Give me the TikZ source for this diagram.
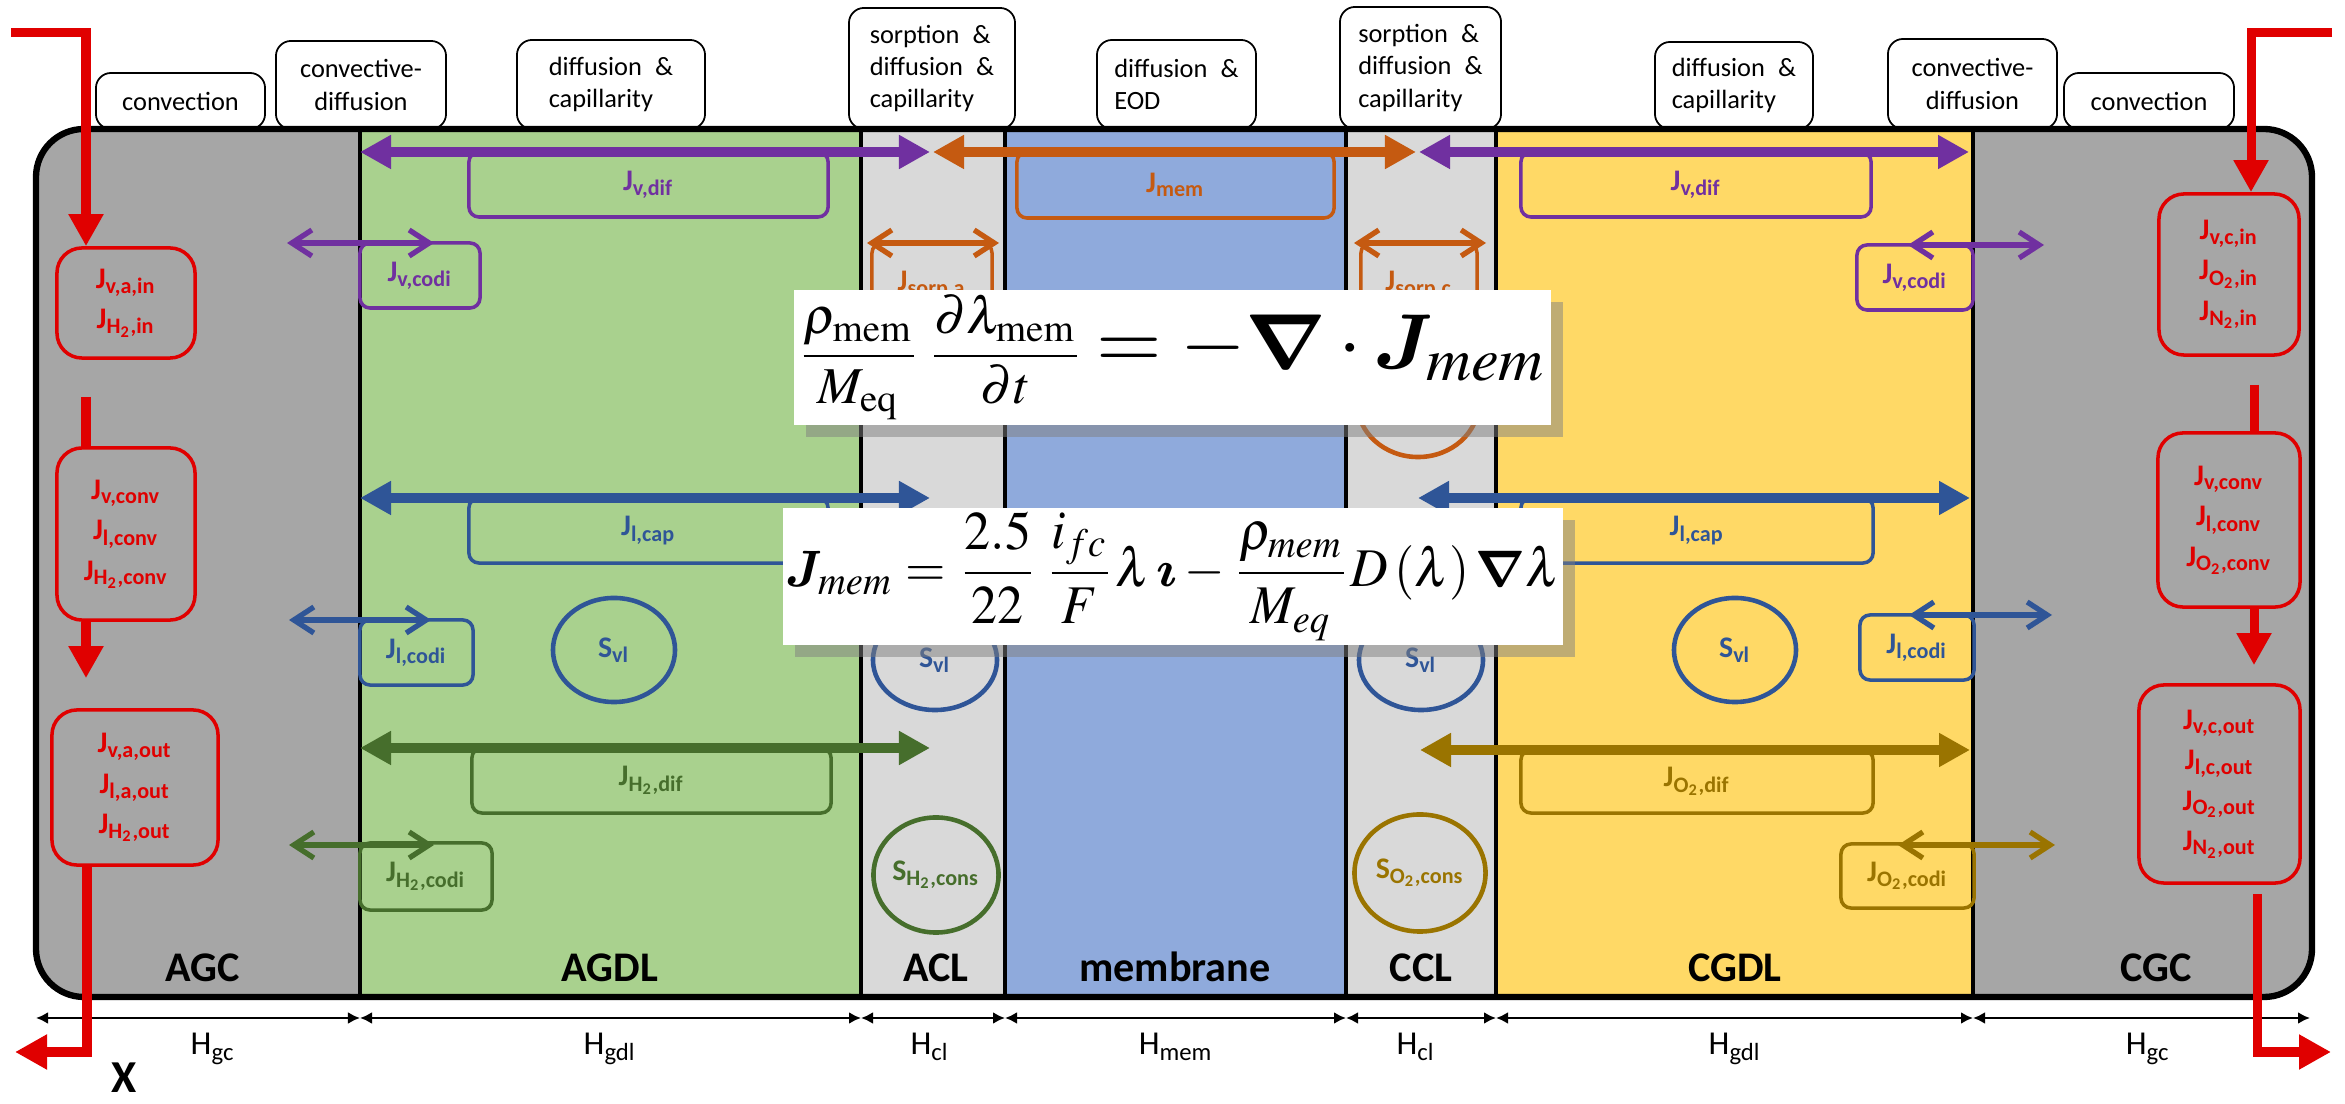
\documentclass[tikz,border=0pt]{standalone}
\usepackage{amsmath}
\usepackage{bm}
\usepackage{mathptmx}
\usepackage{graphicx}
\usepackage[no-math]{fontspec}
\setmainfont{Carlito}
\usetikzlibrary{arrows.meta,positioning,shapes.geometric,shadows,calc}
\definecolor{gcgray}{RGB}{166,166,166}
\definecolor{gdlgreen}{RGB}{169,209,142}
\definecolor{clgray}{RGB}{217,217,217}
\definecolor{memblue}{RGB}{143,170,220}
\definecolor{gdlyellow}{RGB}{255,217,102}
\definecolor{vappurple}{RGB}{112,48,160}
\definecolor{memorange}{RGB}{197,90,17}
\definecolor{liqblue}{RGB}{47,85,151}
\definecolor{hydgreen}{RGB}{70,110,44}
\definecolor{oxyolive}{RGB}{154,116,0}
\definecolor{flowred}{RGB}{224,0,0}
\newcommand{\flux}[1]{J\textsubscript{#1}}
\newcommand{\subtwo}{\textsubscript{2}}

\begin{document}
\begin{tikzpicture}[x=0.01cm, y=-0.01cm, thick, font=\fontsize{8.5}{11.5}\selectfont\bfseries]
  \tikzstyle{toplbl} = [draw, fill=white, rounded corners=0.15cm, line width=0.5pt, inner sep=0pt, font=\fontsize{7.5}{9.2}\selectfont]
  \tikzstyle{fluxbox} = [draw, rounded corners=0.1cm, line width=1pt, inner sep=0pt]
  \tikzstyle{redbox} = [draw=flowred, text=flowred, rounded corners=0.25cm, line width=1pt, inner sep=0pt, align=center]
  \tikzstyle{srcell} = [ellipse, draw, line width=1.3pt, inner sep=0pt]
  \tikzstyle{bigflow} = [{Triangle[length=0.31cm,width=0.32cm]}-{Triangle[length=0.31cm,width=0.32cm]}, line width=0.1cm]
  \tikzstyle{codiflow} = [{Straight Barb[length=0.2cm,width=0.26cm]}-{Straight Barb[length=0.2cm,width=0.26cm]}, line width=1.5pt]
  \tikzstyle{redflow} = [flowred, line width=0.09cm, -{Triangle[length=0.32cm,width=0.33cm]}]
  \tikzstyle{redline} = [flowred, line width=0.09cm]
  \tikzstyle{dimarr} = [{Latex[length=0.12cm,width=0.12cm]}-{Latex[length=0.12cm,width=0.12cm]}, line width=0.8pt]
  \tikzstyle{lyrlbl} = [anchor=base, font=\fontsize{12}{14}\selectfont\bfseries]
  \tikzstyle{dimlbl} = [anchor=base, font=\fontsize{9.5}{11}\selectfont]
  \tikzstyle{eqbox} = [fill=white, inner sep=0pt, drop shadow={shadow xshift=0.12cm, shadow yshift=-0.12cm, opacity=0.5}]

  \useasboundingbox (0,0) rectangle (2345,1104);

  % layers
  \begin{scope}
    \clip[rounded corners=0.48cm] (36,129) rectangle (2312,997);
    \foreach \a/\b/\c in {36/360/gcgray, 360/861/gdlgreen, 861/1005/clgray, 1005/1346/memblue,
                          1346/1496/clgray, 1496/1973/gdlyellow, 1973/2312/gcgray}
      \fill[\c] (\a,129) rectangle (\b,997);
  \end{scope}
  \foreach \x in {360,861,1005,1346,1496,1973}
    \draw[line width=1.3pt] (\x,129) -- (\x,997);

  \node[toplbl, minimum width=1.69cm, minimum height=0.56cm] (convA) at (180.5,101) {convection};
  \node[toplbl, minimum width=1.70cm, minimum height=0.88cm, align=center] (codiA) at (361,85) {convective-\\diffusion};
  \node[toplbl, minimum width=1.88cm, minimum height=0.89cm, align=left] (capA) at (611,84.5) {diffusion\enspace\&\\capillarity};
  \node[toplbl, minimum width=1.66cm, minimum height=1.21cm, align=left] (sorpA) at (932,68.5) {sorption\enspace\&\\diffusion\enspace\&\\capillarity};
  \node[toplbl, minimum width=1.59cm, minimum height=0.89cm, align=left] (eod) at (1176.5,84.5) {diffusion\enspace\&\\EOD};
  \node[toplbl, minimum width=1.61cm, minimum height=1.22cm, align=left] (sorpC) at (1420.5,68) {sorption\enspace\&\\diffusion\enspace\&\\capillarity};
  \node[toplbl, minimum width=1.58cm, minimum height=0.87cm, align=left] (capC) at (1734,85.5) {diffusion\enspace\&\\capillarity};
  \node[toplbl, minimum width=1.69cm, minimum height=0.90cm, align=center] (codiC) at (1972.5,84) {convective-\\diffusion};
  \node[toplbl, minimum width=1.70cm, minimum height=0.56cm] (convC) at (2149,101) {convection};

  \draw[line width=1.8pt, rounded corners=0.48cm] (36,129) rectangle (2312,997);

  \node[lyrlbl] (agc) at (203,982) {AGC};
  \node[lyrlbl] (agdl) at (610,982) {AGDL};
  \node[lyrlbl] (acl) at (936,982) {ACL};
  \node[lyrlbl] (mem) at (1175,982) {membrane};
  \node[lyrlbl] (ccl) at (1421,982) {CCL};
  \node[lyrlbl] (cgdl) at (1735,982) {CGDL};
  \node[lyrlbl] (cgc) at (2156,982) {CGC};

  % diffusive fluxes
  \node[fluxbox, draw=vappurple, text=vappurple, minimum width=3.59cm, minimum height=0.65cm] (jvdifA) at (648.5,184.5) {\flux{v,dif}};
  \node[fluxbox, draw=memorange, text=memorange, minimum width=3.17cm, minimum height=0.66cm] (jmem) at (1175.5,185) {\flux{mem}};
  \node[fluxbox, draw=vappurple, text=vappurple, minimum width=3.50cm, minimum height=0.65cm] (jvdifC) at (1696,184.5) {\flux{v,dif}};
  \node[fluxbox, draw=liqblue, text=liqblue, minimum width=3.59cm, minimum height=0.65cm] (jlcapA) at (648.5,530.5) {\flux{l,cap}};
  \node[fluxbox, draw=liqblue, text=liqblue, minimum width=3.52cm, minimum height=0.65cm] (jlcapC) at (1697,530.5) {\flux{l,cap}};
  \node[fluxbox, draw=hydgreen, text=hydgreen, minimum width=3.59cm, minimum height=0.65cm] (jhdif) at (651.5,780.5) {\flux{H\subtwo,dif}};
  \node[fluxbox, draw=oxyolive, text=oxyolive, minimum width=3.52cm, minimum height=0.63cm] (jodif) at (1697,781.5) {\flux{O\subtwo,dif}};

  \coordinate (vapA1) at (360,152);  \coordinate (vapA2) at (930,152);
  \coordinate (memA) at (933,152);   \coordinate (memC) at (1416,152);
  \coordinate (vapC1) at (1419,152); \coordinate (vapC2) at (1969,152);
  \coordinate (liqA1) at (360,498);  \coordinate (liqA2) at (930,498);
  \coordinate (liqC1) at (1418,498); \coordinate (liqC2) at (1970,498);
  \coordinate (hyd1) at (360,748);   \coordinate (hyd2) at (930,748);
  \coordinate (oxy1) at (1420,750);  \coordinate (oxy2) at (1970,750);
  \draw[bigflow, vappurple] (vapA1) -- (vapA2);
  \draw[bigflow, memorange] (memA) -- (memC);
  \draw[bigflow, vappurple] (vapC1) -- (vapC2);
  \draw[bigflow, liqblue] (liqA1) -- (liqA2);
  \draw[bigflow, liqblue] (liqC1) -- (liqC2);
  \draw[bigflow, hydgreen] (hyd1) -- (hyd2);
  \draw[bigflow, oxyolive] (oxy1) -- (oxy2);

  % convective-diffusive fluxes
  \node[fluxbox, draw=vappurple, text=vappurple, minimum width=1.20cm, minimum height=0.65cm] (jvcodiA) at (420,275.5) {\flux{v,codi}};
  \node[fluxbox, draw=vappurple, text=vappurple, minimum width=1.16cm, minimum height=0.65cm] (jvcodiC) at (1915,277.5) {\flux{v,codi}};
  \node[fluxbox, draw=liqblue, text=liqblue, minimum width=1.13cm, minimum height=0.65cm] (jlcodiA) at (416.5,652.5) {\flux{l,codi}};
  \node[fluxbox, draw=liqblue, text=liqblue, minimum width=1.14cm, minimum height=0.65cm] (jlcodiC) at (1917,647.5) {\flux{l,codi}};
  \node[fluxbox, draw=hydgreen, text=hydgreen, minimum width=1.32cm, minimum height=0.67cm] (jhcodi) at (426,876.5) {\flux{H\subtwo,codi}};
  \node[fluxbox, draw=oxyolive, text=oxyolive, minimum width=1.33cm, minimum height=0.64cm] (jocodi) at (1907.5,876) {\flux{O\subtwo,codi}};
  \draw[codiflow, vappurple] (287,243) coordinate (cva1) -- (434,243) coordinate (cva2);
  \draw[codiflow, vappurple] (1908,245) coordinate (cvc1) -- (2044,245) coordinate (cvc2);
  \draw[codiflow, liqblue] (289,620) coordinate (cla1) -- (431,620) coordinate (cla2);
  \draw[codiflow, liqblue] (1909,615) coordinate (clc1) -- (2052,615) coordinate (clc2);
  \draw[codiflow, hydgreen] (289,845) coordinate (ch1) -- (434,845) coordinate (ch2);
  \draw[codiflow, oxyolive] (1898,845) coordinate (co1) -- (2055,845) coordinate (co2);

  % sources
  \node[srcell, draw=liqblue, text=liqblue, minimum width=1.22cm, minimum height=1.04cm] (svlA) at (614,650) {S\textsubscript{vl}};
  \node[srcell, draw=liqblue, text=liqblue, minimum width=1.24cm, minimum height=1.0cm] (svlAcl) at (935,660) {S\textsubscript{vl}};
  \node[srcell, draw=liqblue, text=liqblue, minimum width=1.24cm, minimum height=1.0cm] (svlCcl) at (1421,660) {S\textsubscript{vl}};
  \node[srcell, draw=liqblue, text=liqblue, minimum width=1.22cm, minimum height=1.04cm] (svlC) at (1735,650) {S\textsubscript{vl}};
  \node[srcell, draw=hydgreen, text=hydgreen, minimum width=1.25cm, minimum height=1.15cm] (shcons) at (936,875) {S\textsubscript{H\subtwo,cons}};
  \node[srcell, draw=oxyolive, text=oxyolive, minimum width=1.31cm, minimum height=1.17cm] (socons) at (1420,873) {S\textsubscript{O\subtwo,cons}};
  \node[srcell, draw=memorange, minimum width=1.22cm, minimum height=1.10cm] (ssorpC) at (1418,402) {};

  % sorption
  \node[fluxbox, draw=memorange, text=memorange, minimum width=1.20cm, minimum height=0.84cm] (jsorpA) at (932,285) {\flux{sorp,a}};
  \node[fluxbox, draw=memorange, text=memorange, minimum width=1.16cm, minimum height=0.84cm] (jsorpC) at (1419,285) {\flux{sorp,c}};
  \draw[codiflow, memorange] (867,243) coordinate (sa1) -- (999,243) coordinate (sa2);
  \draw[codiflow, memorange] (1354,243) coordinate (sc1) -- (1486,243) coordinate (sc2);

  % equations
  \node[eqbox, minimum width=7.57cm, minimum height=1.35cm] (eqA) at (1172.5,357.5)
    {\resizebox*{7.52cm}{1.25cm}{$\dfrac{\rho_{\mathrm{mem}}}{M_{\mathrm{eq}}}\,\dfrac{\partial\lambda_{\mathrm{mem}}}{\partial t}\;\scalebox{1.6}{$= -\bm{\nabla}\cdot\bm{J_{mem}}$}$}};
  \node[eqbox, minimum width=7.80cm, minimum height=1.37cm] (eqB) at (1173,576.5)
    {\resizebox*{7.74cm}{1.28cm}{$\bm{J}_{\mathit{mem}} = \dfrac{2.5}{22}\,\dfrac{i_{fc}}{F}\lambda\,\bm{\imath} - \dfrac{\rho_{mem}}{M_{eq}}D\left(\lambda\right)\bm{\nabla}\lambda$}};

  % thicknesses
  \foreach \x [count=\i from 0] in {36,360,861,1005,1346,1496,1973,2310}
    \coordinate (d\i) at (\x,1018);
  \foreach \i/\j in {0/1,1/2,2/3,3/4,4/5,5/6,6/7}
    \draw[dimarr] (d\i) -- (d\j);
  \node[dimlbl] (hgcA) at (213,1055) {H\textsubscript{gc}};
  \node[dimlbl] (hgdlA) at (610,1055) {H\textsubscript{gdl}};
  \node[dimlbl] (hclA) at (930,1055) {H\textsubscript{cl}};
  \node[dimlbl] (hmem) at (1176,1055) {H\textsubscript{mem}};
  \node[dimlbl] (hclC) at (1416,1055) {H\textsubscript{cl}};
  \node[dimlbl] (hgdlC) at (1735,1055) {H\textsubscript{gdl}};
  \node[dimlbl] (hgcC) at (2148,1055) {H\textsubscript{gc}};
  \node[anchor=base, font=\fontsize{13}{15}\selectfont\bfseries] (xaxis) at (124,1093) {X};

  % channel flows
  \node[redbox, minimum width=1.38cm, minimum height=1.10cm] (inA) at (126,303) {\flux{v,a,in}\\\flux{H\subtwo,in}};
  \node[redbox, minimum width=1.38cm, minimum height=1.72cm] (convA2) at (126,534) {\flux{v,conv}\\\flux{l,conv}\\\flux{H\subtwo,conv}};
  \node[redbox, minimum width=1.66cm, minimum height=1.55cm] (outA) at (135,787.5) {\flux{v,a,out}\\\flux{l,a,out}\\\flux{H\subtwo,out}};
  \node[redbox, minimum width=1.40cm, minimum height=1.61cm] (inC) at (2229,274.5) {\flux{v,c,in}\\\flux{O\subtwo,in}\\\flux{N\subtwo,in}};
  \node[redbox, minimum width=1.42cm, minimum height=1.74cm] (convC2) at (2229,520) {\flux{v,conv}\\\flux{l,conv}\\\flux{O\subtwo,conv}};
  \node[redbox, minimum width=1.61cm, minimum height=1.98cm] (outC) at (2219.5,784) {\flux{v,c,out}\\\flux{l,c,out}\\\flux{O\subtwo,out}\\\flux{N\subtwo,out}};

  \coordinate (feedA) at (11,33);    \coordinate (feedAc) at (86,33);
  \coordinate (midA) at (86,397);
  \coordinate (exitA) at (15,1052);  \coordinate (exitAc) at (87,1052);
  \coordinate (feedC) at (2332,33);  \coordinate (feedCc) at (2251,33);
  \coordinate (midC) at (2254,385);
  \coordinate (exitC) at (2331,1052); \coordinate (exitCc) at (2257,1052);
  \draw[redflow] (feedA) -- (feedAc) -- (feedAc |- inA.north);
  \draw[redline] (midA) -- (midA |- convA2.north);
  \draw[redflow, shorten >=0.3cm] (midA |- convA2.south) -- (midA |- outA.north);
  \draw[redflow] (exitAc |- outA.south) -- (exitAc) -- (exitA);
  \draw[redflow] (feedC) -- (feedCc) -- (feedCc |- inC.north);
  \draw[redline] (midC) -- (midC |- convC2.north);
  \draw[redflow, shorten >=0.18cm] (midC |- convC2.south) -- (midC |- outC.north);
  \draw[redflow, shorten <=0.09cm] (exitCc |- outC.south) -- (exitCc) -- (exitC);
\end{tikzpicture}
\end{document}
